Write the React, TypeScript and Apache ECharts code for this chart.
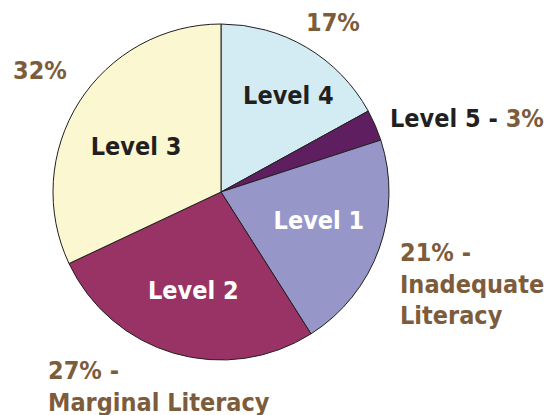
import React, { useEffect, useRef } from "react";
import * as echarts from "echarts";

const levels = ["Level 4", "Level 5", "Level 1", "Level 2", "Level 3"];
const shares = [17, 3, 21, 27, 32];
const colors = ["#D3ECF3", "#5F1E60", "#9696C8", "#993366", "#FBF7D0"];
const innerLabelColors = ["#231F20", "#231F20", "#FFFFFF", "#FFFFFF", "#231F20"];
const descriptions: Record<string, string> = {
  "Level 1": "Inadequate\nLiteracy",
  "Level 2": "Marginal Literacy",
};

// label nudges (layout only)
const innerOffsets: Record<string, [number, number]> = {
  "Level 4": [15, -8],
  "Level 3": [2, 10],
  "Level 1": [1, -6],
  "Level 2": [1, 0],
};

const BROWN = "#7D5C3C";
const FONT = "'DejaVu Sans Condensed', 'DejaVu Sans', sans-serif";
const FS = 25;

export default function App() {
  const ref = useRef<HTMLDivElement>(null);
  useEffect(() => {
    if (!ref.current) return;
    const chart = echarts.init(ref.current, undefined, { renderer: "svg" });
    const data = levels.map((name, i) => ({
      name,
      value: shares[i],
      itemStyle: { color: colors[i] },
    }));
    const labelData = levels.map((name, i) => ({
      name,
      value: shares[i],
      label: {
        show: name !== "Level 5",
        color: innerLabelColors[i],
        offset: innerOffsets[name] || [0, 0],
      },
    }));
    const pct = (n: string) => `${shares[levels.indexOf(n)]}%`;
    const font = `bold ${FS}px ${FONT}`;
    chart.setOption({
      animation: false,
      series: [
        {
          type: "pie",
          center: [221, 192],
          radius: [0, 168],
          startAngle: 90,
          clockwise: true,
          silent: true,
          label: { show: false },
          labelLine: { show: false },
          itemStyle: { borderColor: "#231F20", borderWidth: 1 },
          data,
        },
        {
          type: "pie",
          center: [221, 192],
          radius: [0, 200],
          startAngle: 90,
          clockwise: true,
          silent: true,
          itemStyle: { color: "transparent" },
          label: {
            position: "inside",
            formatter: "{b}",
            fontFamily: FONT,
            fontWeight: "bold",
            fontSize: FS,
          },
          labelLine: { show: false },
          data: labelData,
        },
      ],
      graphic: [
        {
          type: "text",
          x: 306,
          y: 22,
          style: { text: pct("Level 4"), fill: BROWN, font, textVerticalAlign: "middle" },
        },
        {
          type: "text",
          x: 13,
          y: 70,
          style: { text: pct("Level 3"), fill: BROWN, font, textVerticalAlign: "middle" },
        },
        {
          type: "text",
          x: 390,
          y: 118,
          style: {
            text: `{k|Level 5 - }{v|${pct("Level 5")}}`,
            textVerticalAlign: "middle",
            rich: {
              k: { fill: "#231F20", font },
              v: { fill: BROWN, font },
            },
          },
        },
        {
          type: "text",
          x: 400,
          y: 252,
          style: { text: `${pct("Level 1")} -`, fill: BROWN, font, textVerticalAlign: "middle" },
        },
        {
          type: "text",
          x: 400,
          y: 284,
          style: { text: descriptions["Level 1"].split("\n")[0], fill: BROWN, font, textVerticalAlign: "middle" },
        },
        {
          type: "text",
          x: 400,
          y: 315,
          style: { text: descriptions["Level 1"].split("\n")[1], fill: BROWN, font, textVerticalAlign: "middle" },
        },
        {
          type: "text",
          x: 48,
          y: 370,
          style: { text: `${pct("Level 2")} -`, fill: BROWN, font, textVerticalAlign: "middle" },
        },
        {
          type: "text",
          x: 48,
          y: 402,
          style: { text: descriptions["Level 2"], fill: BROWN, font, textVerticalAlign: "middle" },
        },
      ],
    });
    return () => chart.dispose();
  }, []);
  return <div ref={ref} style={{ width: 559, height: 415, position: "absolute", left: 0, top: 0 }} />;
}
